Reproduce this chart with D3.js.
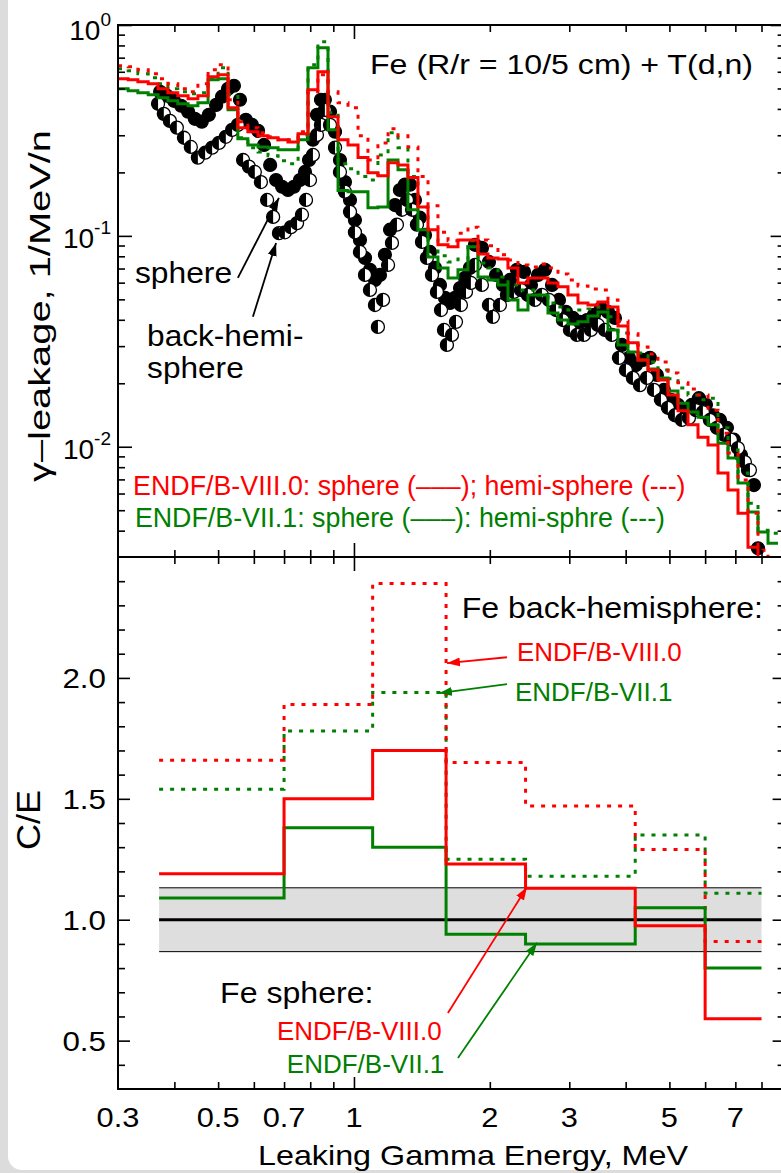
<!DOCTYPE html>
<html>
<head>
<meta charset="utf-8">
<script src="https://cdn.jsdelivr.net/npm/d3@7"></script>
<style>
  body { margin: 0; background: #dcdcdc; }
  svg { display: block; font-family: "Liberation Sans", Arial, sans-serif; }
</style>
</head>
<body>
<svg id="chart" width="781" height="1173"></svg>
<script>
// ---- calculated spectra: common energy bins (MeV) ----
var binEdges = [0.300,0.316,0.332,0.350,0.368,0.387,0.407,0.429,0.451,0.475,
  0.500,0.526,0.553,0.582,0.613,0.645,0.679,0.714,0.752,0.791,
  0.832,0.876,0.922,0.970,1.021,1.074,1.130,1.190,1.252,1.317,
  1.386,1.459,1.535,1.616,1.700,1.789,1.883,1.981,2.085,2.194,
  2.309,2.430,2.557,2.691,2.832,2.980,3.136,3.300,3.473,3.655,
  3.846,4.048,4.260,4.483,4.717,4.964,5.224,5.498,5.786,6.089,
  6.407,6.743,7.096,7.467,7.858,8.270,8.703];

// ENDF/B-VIII.0, sphere (solid red)
var viiiSphere = [0.556,0.550,0.538,0.526,0.498,0.477,0.462,0.447,0.462,0.568,
  0.581,0.405,0.326,0.312,0.298,0.292,0.286,0.279,0.305,0.493,
  0.600,0.367,0.286,0.270,0.235,0.199,0.193,0.222,0.217,0.189,
  0.137,0.107,0.0907,0.0887,0.0957,0.0957,0.0821,0.0786,0.0777,0.0705,
  0.0598,0.0632,0.0632,0.0598,0.0573,0.0525,0.0481,0.0470,0.0486,0.0460,
  0.0374,0.0311,0.0258,0.0231,0.0207,0.0176,0.0148,0.0127,0.0111,0.0102,
  0.0075,0.00623,0.00484,0.00334,0.00233,0.001];
// ENDF/B-VIII.0, back-hemisphere (dotted red)
var viiiHemi = [0.641,0.634,0.613,0.587,0.556,0.526,0.498,0.482,0.526,0.613,
  0.648,0.442,0.348,0.326,0.308,0.295,0.286,0.286,0.312,0.482,
  0.581,0.482,0.428,0.405,0.298,0.229,0.276,0.322,0.298,0.264,
  0.191,0.139,0.104,0.0947,0.103,0.110,0.0957,0.0897,0.0813,0.0769,
  0.0728,0.0712,0.0736,0.0705,0.0660,0.0618,0.0579,0.0560,0.0554,0.0497,
  0.0395,0.0343,0.0297,0.0275,0.0252,0.0224,0.0201,0.0188,0.0176,0.0149,
  0.0116,0.00934,0.00695,0.00484,0.00323,0.0021];
// ENDF/B-VII.1, sphere (solid green)
var viiSphere = [0.498,0.488,0.477,0.467,0.452,0.437,0.423,0.414,0.428,0.550,
  0.556,0.396,0.289,0.270,0.264,0.262,0.256,0.256,0.286,0.627,
  0.780,0.319,0.164,0.162,0.162,0.136,0.137,0.229,0.206,0.133,
  0.107,0.0795,0.0705,0.0632,0.0690,0.0887,0.0639,0.0618,0.0585,0.0497,
  0.0445,0.0525,0.0525,0.0431,0.0399,0.0382,0.0391,0.0417,0.0436,0.0358,
  0.0304,0.0281,0.0258,0.0234,0.0212,0.0184,0.0161,0.0146,0.0138,0.0127,
  0.0104,0.00884,0.00673,0.00490,0.00394,0.00349];
// ENDF/B-VII.1, back-hemisphere (dotted green)
var viiHemi = [0.620,0.607,0.587,0.562,0.526,0.498,0.482,0.472,0.477,0.556,
  0.627,0.467,0.292,0.262,0.250,0.240,0.227,0.220,0.301,0.648,
  0.833,0.384,0.220,0.208,0.191,0.184,0.242,0.308,0.262,0.191,
  0.137,0.0957,0.0804,0.0752,0.0777,0.0947,0.0744,0.0705,0.0639,0.0585,
  0.0554,0.0554,0.0525,0.0481,0.0460,0.0445,0.0445,0.0450,0.0460,0.0413,
  0.0346,0.0307,0.0278,0.0252,0.0231,0.0210,0.0190,0.0176,0.0167,0.0170,
  0.0123,0.00965,0.0075,0.00540,0.00402,0.00389];

// ---- measured spectra ----
var expSphereE = [0.372,0.385,0.399,0.414,0.429,0.444,0.460,0.477,0.495,0.510,
  0.526,0.542,0.559,0.576,0.594,0.613,0.632,0.652,0.672,0.693,
  0.714,0.736,0.759,0.779,0.795,0.811,0.828,0.845,0.862,0.885,
  0.908,0.931,0.955,0.980,1.005,1.031,1.058,1.085,1.113,1.142,
  1.171,1.202,1.233,1.264,1.297,1.331,1.365,1.400,1.437,1.474,
  1.512,1.551,1.591,1.632,1.674,1.718,1.762,1.807,1.854,1.921,
  1.991,2.064,2.139,2.217,2.297,2.381,2.467,2.557,2.650,2.747,
  2.846,2.950,3.057,3.168,3.283,3.402,3.526,3.654,3.787,3.925,
  4.068,4.215,4.368,4.527,4.691,4.862,5.039,5.222,5.411,5.608,
  5.813,6.025,6.244,6.471,6.706,6.950,7.203,7.465,7.697,7.856];
var expSphere = [0.482,0.462,0.437,0.414,0.388,0.359,0.348,0.375,0.418,0.457,
  0.498,0.515,0.442,0.355,0.336,0.315,0.270,0.217,0.184,0.171,
  0.165,0.171,0.184,0.201,0.229,0.286,0.375,0.442,0.442,0.388,
  0.312,0.229,0.180,0.148,0.119,0.0957,0.0786,0.0690,0.0618,0.0653,
  0.0813,0.107,0.140,0.165,0.175,0.175,0.148,0.122,0.101,0.0839,
  0.0705,0.0585,0.0508,0.0481,0.0508,0.0566,0.0632,0.0705,0.0907,0.0877,
  0.0752,0.0653,0.0585,0.0618,0.0690,0.0675,0.0585,0.0653,0.0690,0.0585,
  0.0497,0.0436,0.0408,0.0391,0.0399,0.0422,0.0455,0.0436,0.0408,0.0304,
  0.0264,0.0244,0.0258,0.0264,0.0219,0.0186,0.0167,0.0158,0.0149,0.0158,
  0.0170,0.0158,0.0141,0.0134,0.0123,0.0108,0.00913,0.00775,0.00658,0.00330];
var expHemiE = [0.368,0.379,0.391,0.405,0.420,0.435,0.451,0.468,0.485,0.502,
  0.520,0.537,0.553,0.568,0.585,0.603,0.622,0.642,0.662,0.682,
  0.703,0.725,0.748,0.767,0.783,0.799,0.811,0.828,0.845,0.862,
  0.885,0.908,0.931,0.955,0.980,1.005,1.031,1.058,1.085,1.113,
  1.130,1.160,1.190,1.214,1.245,1.277,1.311,1.345,1.379,1.415,
  1.451,1.489,1.527,1.559,1.583,1.607,1.649,1.683,1.726,1.771,
  1.816,1.854,1.921,1.991,2.032,2.106,2.183,2.262,2.344,2.429,
  2.518,2.609,2.704,2.803,2.904,3.010,3.119,3.233,3.350,3.472,
  3.598,3.729,3.865,4.005,4.151,4.302,4.458,4.620,4.788,4.962,
  5.142,5.329,5.523,5.724,5.932,6.148,6.371,6.603,6.844,7.093,
  7.350,7.541];
var expHemi = [0.423,0.379,0.351,0.326,0.292,0.264,0.235,0.248,0.262,0.276,
  0.295,0.318,0.336,0.229,0.213,0.201,0.180,0.148,0.123,0.103,
  0.104,0.110,0.115,0.126,0.148,0.184,0.242,0.301,0.336,0.396,
  0.336,0.262,0.201,0.162,0.130,0.104,0.0839,0.0653,0.0554,0.0470,
  0.0370,0.0497,0.0728,0.0926,0.113,0.133,0.148,0.133,0.113,0.0936,
  0.0786,0.0653,0.0542,0.0445,0.0358,0.0304,0.0339,0.0391,0.0470,0.0542,
  0.0598,0.0728,0.0585,0.0470,0.0413,0.0470,0.0525,0.0542,0.0554,0.0525,
  0.0497,0.0525,0.0497,0.0445,0.0399,0.0358,0.0339,0.0339,0.0358,0.0378,
  0.0358,0.0339,0.0264,0.0231,0.0212,0.0196,0.0212,0.0186,0.0167,0.0153,
  0.0141,0.0134,0.0137,0.0149,0.0146,0.0134,0.0123,0.0114,0.0108,0.00986,
  0.00846,0.00775];

// ---- C/E in broad groups ----
var ceEdges = [0.37, 0.7, 1.1, 1.6, 2.4, 4.2, 6.0, 8.0];
var ceViiiSphere = [1.19, 1.50, 1.70, 1.23, 1.13, 0.975, 0.59];
var ceViiSphere  = [1.09, 1.38, 1.30, 0.94, 0.90, 1.05, 0.80];
var ceViiiHemi   = [1.66, 1.89, 2.39, 1.65, 1.47, 1.29, 0.91];
var ceViiHemi    = [1.54, 1.78, 1.94, 1.25, 1.18, 1.35, 1.11];
var expBand = [0.868, 1.132];

// ---- ticks ----
var xTickLabels = [0.3, 0.5, 0.7, 1, 2, 3, 5, 7];
var xMinor = [0.4, 0.5, 0.6, 0.7, 0.8, 0.9, 2, 3, 4, 5, 6, 7, 8];
var xMajor = [1];
var leakMajor = [1, 0.1, 0.01];
var leakExp = ["0", "-1", "-2"];
var leakMinor = [0.004, 0.005, 0.006, 0.007, 0.008, 0.009,
  0.02, 0.03, 0.04, 0.05, 0.06, 0.07, 0.08, 0.09,
  0.2, 0.3, 0.4, 0.5, 0.6, 0.7, 0.8, 0.9];
var ceMajor = [0.5, 1.0, 1.5, 2.0];
var ceTickLabels = ["0.5", "1.0", "1.5", "2.0"];
var ceMinor = [0.4, 0.6, 0.7, 0.8, 0.9, 1.1, 1.2, 1.3, 1.4, 1.6, 1.7, 1.8, 1.9,
  2.1, 2.2, 2.3, 2.4];

var RED = "#ff0000", GREEN = "#008000";

var svg = d3.select("#chart");
svg.append("rect").attr("width", 781).attr("height", 1173).attr("fill", "#dcdcdc");
svg.append("rect").attr("x", 8).attr("y", -20).attr("width", 820).attr("height", 1190)
  .attr("rx", 14).attr("fill", "#fff");

// plot frame (pixels)
var pL = 118, pR = 784.6, pT = 25, pM = 557, pB = 1089;

var x = d3.scaleLog().domain([0.3, 9]).range([pL, pR]);
var yLeak = d3.scaleLog().domain([0.003, 1]).range([pM, pT]);
var yCE = d3.scaleLinear().domain([0.3, 2.5]).range([pB, pM]);

var defs = svg.append("defs");
defs.append("clipPath").attr("id", "clipTop").append("rect")
  .attr("x", pL).attr("y", pT).attr("width", pR - pL).attr("height", pM - pT);
defs.append("clipPath").attr("id", "clipBot").append("rect")
  .attr("x", pL).attr("y", pM).attr("width", pR - pL).attr("height", pB - pM);
[["black", "#000"], ["red", RED], ["green", GREEN]].forEach(function(c) {
  defs.append("marker").attr("id", "arrow-" + c[0])
    .attr("viewBox", "-13 -5 14 10").attr("refX", 0).attr("refY", 0)
    .attr("markerUnits", "userSpaceOnUse")
    .attr("markerWidth", 14).attr("markerHeight", 10).attr("orient", "auto")
    .append("path").attr("d", "M0,0 L-13,-4.5 L-13,4.5 Z").attr("fill", c[1]);
});

function stepPoints(edges, vals) {
  var p = vals.map(function(v, i) { return [edges[i], v]; });
  p.push([edges[vals.length], vals[vals.length - 1]]);
  return p;
}

function txt(parent, px, py, s, size, sx, anchor, fill) {
  return parent.append("text")
    .attr("transform", "translate(" + px + "," + py + ") scale(" + sx + ",1)")
    .attr("text-anchor", anchor || "start")
    .attr("font-size", size)
    .attr("fill", fill || "#000")
    .text(s);
}

function arrow(parent, pts, scY, color, name, w) {
  parent.append("line")
    .attr("x1", x(pts[0][0])).attr("y1", scY(pts[0][1]))
    .attr("x2", x(pts[1][0])).attr("y2", scY(pts[1][1]))
    .attr("stroke", color).attr("stroke-width", w)
    .attr("marker-end", "url(#arrow-" + name + ")");
}

function tickAxis(fn, scale, vals, size, tr) {
  var g = svg.append("g").attr("transform", tr)
    .call(fn(scale).tickValues(vals).tickSize(size).tickFormat(""));
  g.select(".domain").remove();
  g.selectAll("line").attr("stroke", "#000").attr("stroke-width", 1.6);
}

// ================= top panel =================
var gTop = svg.append("g");

// measured points
var gExp = gTop.append("g").attr("clip-path", "url(#clipTop)");
var r = 6.5;
expSphereE.forEach(function(e, i) {
  gExp.append("circle").attr("cx", x(e)).attr("cy", yLeak(expSphere[i]))
    .attr("r", r).attr("fill", "#000").attr("stroke", "#000").attr("stroke-width", 1.2);
});
expHemiE.forEach(function(e, i) {
  var g = gExp.append("g").attr("transform", "translate(" + x(e) + "," + yLeak(expHemi[i]) + ")");
  g.append("circle").attr("r", r).attr("fill", "#fff").attr("stroke", "#000").attr("stroke-width", 1.3);
  g.append("path").attr("d", "M0," + (-r) + " A" + r + "," + r + " 0 0 0 0," + r + " Z").attr("fill", "#000");
});

var leakLine = d3.line()
  .x(function(d) { return x(d[0]); })
  .y(function(d) { return yLeak(Math.max(d[1], 1e-4)); })
  .curve(d3.curveStepAfter);

var gLines = gTop.append("g").attr("clip-path", "url(#clipTop)").attr("fill", "none");
[[viiHemi, GREEN, "4,7"], [viiSphere, GREEN, null], [viiiHemi, RED, "4,7"], [viiiSphere, RED, null]]
  .forEach(function(s) {
    gLines.append("path").attr("d", leakLine(stepPoints(binEdges, s[0])))
      .attr("stroke", s[1]).attr("stroke-width", 3)
      .attr("stroke-dasharray", s[2]);
  });

// texts top panel
svg.append("text").attr("x", 370).attr("y", 74).attr("font-size", 28)
  .attr("textLength", 383).attr("lengthAdjust", "spacingAndGlyphs")
  .text("Fe (R/r = 10/5 cm) + T(d,n)");

txt(svg, x(0.327), yLeak(0.0598), "sphere", 30, 1.06);
txt(svg, x(0.348), yLeak(0.0299), "back-hemi-", 29, 1.09);
txt(svg, x(0.348), yLeak(0.0212), "sphere", 29, 1.09);
arrow(svg, [[0.553, 0.0632], [0.682, 0.1515]], yLeak, "#000", "black", 1.8);
arrow(svg, [[0.597, 0.0413], [0.672, 0.0926]], yLeak, "#000", "black", 1.8);

txt(svg, x(0.324), yLeak(0.00590), "ENDF/B-VIII.0: sphere (–––); hemi-sphere (---)", 26.8, 1.0, "start", RED);
txt(svg, x(0.327), yLeak(0.00416), "ENDF/B-VII.1: sphere (–––): hemi-sphre (---)", 26.8, 1.0, "start", GREEN);

// ================= bottom panel =================
var gBot = svg.append("g").attr("clip-path", "url(#clipBot)");
gBot.append("rect")
  .attr("x", x(ceEdges[0])).attr("y", yCE(expBand[1]))
  .attr("width", x(ceEdges[ceEdges.length - 1]) - x(ceEdges[0]))
  .attr("height", yCE(expBand[0]) - yCE(expBand[1]))
  .attr("fill", "#dedede");
expBand.forEach(function(b) {
  gBot.append("line").attr("x1", x(ceEdges[0])).attr("x2", x(ceEdges[ceEdges.length - 1]))
    .attr("y1", yCE(b)).attr("y2", yCE(b)).attr("stroke", "#000").attr("stroke-width", 1);
});
gBot.append("line").attr("x1", x(ceEdges[0])).attr("x2", x(ceEdges[ceEdges.length - 1]))
  .attr("y1", yCE(1)).attr("y2", yCE(1)).attr("stroke", "#000").attr("stroke-width", 3);

var ceLine = d3.line()
  .x(function(d) { return x(d[0]); })
  .y(function(d) { return yCE(d[1]); })
  .curve(d3.curveStepAfter);
[[ceViiHemi, GREEN, "4,7"], [ceViiiHemi, RED, "4,7"], [ceViiSphere, GREEN, null], [ceViiiSphere, RED, null]]
  .forEach(function(s) {
    gBot.append("path").attr("d", ceLine(stepPoints(ceEdges, s[0])))
      .attr("fill", "none").attr("stroke", s[1]).attr("stroke-width", 3)
      .attr("stroke-dasharray", s[2]);
  });

txt(svg, x(8.06), yCE(2.247), "Fe back-hemisphere:", 30, 1.07, "end");
txt(svg, x(2.297), yCE(2.069), "ENDF/B-VIII.0", 26, 1.0, "start", RED);
txt(svg, x(2.274), yCE(1.904), "ENDF/B-VII.1", 26, 1.0, "start", GREEN);
arrow(svg, [[2.183, 2.0855], [1.607, 2.061]], yCE, RED, "red", 1.8);
arrow(svg, [[2.183, 1.974], [1.543, 1.937]], yCE, GREEN, "green", 1.8);

txt(svg, x(0.505), yCE(0.656), "Fe sphere:", 30, 1.07);
txt(svg, x(0.675), yCE(0.503), "ENDF/B-VIII.0", 26, 1.0, "start", RED);
txt(svg, x(0.710), yCE(0.3665), "ENDF/B-VII.1", 26, 1.0, "start", GREEN);
arrow(svg, [[1.615, 0.6145], [2.418, 1.135]], yCE, RED, "red", 1.8);
arrow(svg, [[1.700, 0.4285], [2.544, 0.9045]], yCE, GREEN, "green", 1.8);

// ================= axes =================
// x ticks: top frame, shared middle line, bottom frame
tickAxis(d3.axisTop, x, xMinor, -7, "translate(0," + pT + ")");
tickAxis(d3.axisTop, x, xMajor, -14, "translate(0," + pT + ")");
tickAxis(d3.axisBottom, x, xMinor, -7, "translate(0," + pM + ")");
tickAxis(d3.axisBottom, x, xMajor, -14, "translate(0," + pM + ")");
tickAxis(d3.axisTop, x, xMinor, -7, "translate(0," + pM + ")");
tickAxis(d3.axisTop, x, xMajor, -14, "translate(0," + pM + ")");
tickAxis(d3.axisBottom, x, xMinor, -7, "translate(0," + pB + ")");
tickAxis(d3.axisBottom, x, xMajor, -12, "translate(0," + pB + ")");
// y ticks
tickAxis(d3.axisLeft, yLeak, leakMinor, -7, "translate(" + pL + ",0)");
tickAxis(d3.axisLeft, yLeak, leakMajor, -14, "translate(" + pL + ",0)");
tickAxis(d3.axisRight, yLeak, leakMinor, -7, "translate(" + pR + ",0)");
tickAxis(d3.axisRight, yLeak, leakMajor, -14, "translate(" + pR + ",0)");
tickAxis(d3.axisLeft, yCE, ceMinor, -7, "translate(" + pL + ",0)");
tickAxis(d3.axisLeft, yCE, ceMajor, -12, "translate(" + pL + ",0)");
tickAxis(d3.axisRight, yCE, ceMinor, -7, "translate(" + pR + ",0)");
tickAxis(d3.axisRight, yCE, ceMajor, -12, "translate(" + pR + ",0)");

// frames
[[pT, pM], [pM, pB]].forEach(function(p) {
  svg.append("rect").attr("x", pL).attr("y", p[0]).attr("width", pR - pL)
    .attr("height", p[1] - p[0]).attr("fill", "none").attr("stroke", "#000").attr("stroke-width", 2);
});

// tick labels
xTickLabels.forEach(function(v) {
  txt(svg, x(v), 1127, String(v), 28, 1.1, "middle");
});
leakMajor.forEach(function(v, i) {
  var t = svg.append("text").attr("x", 111).attr("y", Math.max(yLeak(v) + 12, 40))
    .attr("text-anchor", "end").attr("font-size", 28);
  t.append("tspan").text("10");
  t.append("tspan").attr("font-size", 19).attr("dy", -14).text(leakExp[i]);
});
ceMajor.forEach(function(v, i) {
  txt(svg, 106, yCE(v) + 10, ceTickLabels[i], 28, 1.12, "end");
});

// axis titles
svg.append("text").attr("transform", "translate(50,306) rotate(-90)")
  .attr("text-anchor", "middle").attr("font-size", 30)
  .attr("textLength", 352).attr("lengthAdjust", "spacingAndGlyphs")
  .text("γ–leakage, 1/MeV/n");
svg.append("text").attr("transform", "translate(40,820) rotate(-90)")
  .attr("text-anchor", "middle").attr("font-size", 34)
  .attr("textLength", 60).attr("lengthAdjust", "spacingAndGlyphs")
  .text("C/E");
svg.append("text").attr("x", 473).attr("y", 1165)
  .attr("text-anchor", "middle").attr("font-size", 28)
  .attr("textLength", 430).attr("lengthAdjust", "spacingAndGlyphs")
  .text("Leaking Gamma Energy, MeV");
</script>
</body>
</html>
